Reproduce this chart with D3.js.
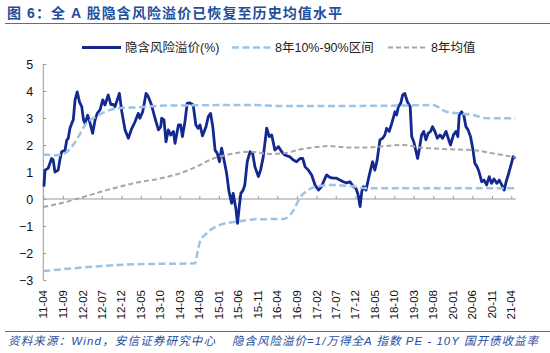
<!DOCTYPE html>
<html>
<head>
<meta charset="utf-8">
<script src="https://cdn.jsdelivr.net/npm/d3@7"></script>
<style>
  body { margin: 0; background: #fff; }
  text { font-family: "Liberation Sans", "Noto Sans CJK SC", sans-serif; }
</style>
</head>
<body>
<svg id="drawing_region"></svg>
<script>
const title = "图 6：全 A 股隐含风险溢价已恢复至历史均值水平";
const seriesNames = ["隐含风险溢价(%)", "8年10%-90%区间", "8年均值"];
const sourceText = "资料来源：Wind，安信证券研究中心";
const noteText = "隐含风险溢价=1/万得全A 指数 PE - 10Y 国开债收益率";

const yTicks = [-3, -2, -1, 0, 1, 2, 3, 4, 5];
const tickLabels = ["11-04", "11-09", "12-02", "12-07", "12-12", "13-05", "13-10", "14-03", "14-08",
    "15-01", "15-06", "15-11", "16-04", "16-09", "17-02", "17-07", "17-12", "18-05", "18-10",
    "19-03", "19-08", "20-01", "20-06", "20-11", "21-04"];

// 隐含风险溢价
const premiumDates = ["2011-04-06", "2011-04-14", "2011-05-09", "2011-06-05", "2011-06-17", "2011-07-01", "2011-07-26", "2011-08-09", "2011-08-22", "2011-09-17",
    "2011-10-01", "2011-10-13", "2011-10-26", "2011-11-09", "2011-11-21", "2011-12-05", "2011-12-22", "2012-01-08", "2012-01-26", "2012-02-09",
    "2012-02-21", "2012-03-12", "2012-03-29", "2012-04-20", "2012-05-09", "2012-05-26", "2012-06-17", "2012-07-08", "2012-07-25", "2012-08-20",
    "2012-09-09", "2012-09-29", "2012-10-12", "2012-10-29", "2012-11-15", "2012-12-04", "2012-12-29", "2013-01-24", "2013-02-20", "2013-03-16",
    "2013-04-11", "2013-04-24", "2013-05-16", "2013-06-11", "2013-06-28", "2013-07-24", "2013-08-20", "2013-09-16", "2013-10-04", "2013-10-11",
    "2013-10-29", "2013-11-14", "2013-12-02", "2013-12-20", "2014-01-11", "2014-01-23", "2014-02-19", "2014-03-08", "2014-03-22", "2014-04-11",
    "2014-04-28", "2014-05-19", "2014-06-14", "2014-07-05", "2014-07-22", "2014-08-06", "2014-08-26", "2014-09-22", "2014-10-10", "2014-10-28",
    "2014-11-14", "2014-12-02", "2014-12-19", "2015-01-05", "2015-01-22", "2015-02-05", "2015-03-02", "2015-03-21", "2015-04-10", "2015-04-22",
    "2015-05-13", "2015-05-26", "2015-06-09", "2015-06-21", "2015-07-09", "2015-07-22", "2015-08-10", "2015-09-01", "2015-09-21", "2015-10-09",
    "2015-11-05", "2015-11-22", "2015-12-13", "2016-01-09", "2016-01-29", "2016-02-17", "2016-03-13", "2016-04-09", "2016-05-05", "2016-05-29",
    "2016-07-09", "2016-08-04", "2016-08-29", "2016-09-25", "2016-10-16", "2016-11-04", "2016-11-29", "2016-12-25", "2017-01-20", "2017-02-16",
    "2017-03-12", "2017-04-02", "2017-04-20", "2017-05-16", "2017-06-11", "2017-07-08", "2017-08-03", "2017-08-28", "2017-09-24", "2017-10-20",
    "2017-11-15", "2017-12-06", "2017-12-23", "2018-01-07", "2018-01-20", "2018-02-02", "2018-02-22", "2018-03-11", "2018-03-23", "2018-04-14",
    "2018-05-02", "2018-05-20", "2018-06-11", "2018-07-02", "2018-07-19", "2018-08-02", "2018-08-22", "2018-09-11", "2018-09-22", "2018-10-06",
    "2018-10-19", "2018-11-02", "2018-11-20", "2018-12-05", "2018-12-22", "2019-01-11", "2019-02-02", "2019-02-14", "2019-03-02", "2019-03-17",
    "2019-04-01", "2019-04-13", "2019-05-02", "2019-05-19", "2019-06-05", "2019-06-22", "2019-07-11", "2019-07-26", "2019-08-14", "2019-09-02",
    "2019-09-22", "2019-10-13", "2019-11-09", "2019-11-26", "2019-12-14", "2020-01-05", "2020-01-25", "2020-02-09", "2020-02-20", "2020-03-09",
    "2020-03-26", "2020-04-12", "2020-04-29", "2020-05-18", "2020-06-04", "2020-06-21", "2020-07-09", "2020-07-24", "2020-08-13", "2020-09-01",
    "2020-09-21", "2020-10-11", "2020-10-29", "2020-11-17", "2020-12-09", "2020-12-28", "2021-01-17", "2021-02-05", "2021-02-20", "2021-03-08",
    "2021-03-26", "2021-04-16", "2021-05-02"];
const premiumValues = [0.46, 1.07, 1.14, 1.5, 1.45, 1.0, 1.07, 1.46, 1.75, 1.8,
    2.18, 2.25, 2.62, 2.8, 2.93, 3.67, 3.97, 3.6, 3.42, 2.93,
    2.8, 3.1, 2.85, 2.43, 2.93, 3.17, 3.3, 3.67, 3.48, 3.85,
    3.5, 3.5, 3.42, 3.67, 3.91, 3.23, 2.56, 2.25, 2.62, 2.85,
    3.17, 2.99, 3.23, 3.91, 3.8, 3.48, 2.99, 2.56, 2.68, 2.99,
    2.93, 2.12, 2.56, 2.37, 2.5, 2.06, 2.74, 2.74, 2.31, 2.87,
    3.54, 3.56, 3.48, 2.74, 2.62, 2.74, 2.34, 2.68, 3.05, 3.17,
    2.68, 1.81, 1.69, 1.38, 1.88, 1.56, 0.95, 0.27, -0.16, 0.21,
    -0.35, -0.9, -0.28, 0.21, 0.33, 0.52, 1.38, 1.75, 1.69, 1.19,
    0.83, 1.07, 1.56, 2.62, 2.31, 2.37, 1.81, 1.94, 1.75, 1.63,
    1.56, 1.44, 1.38, 1.5, 1.5, 1.19, 1.07, 0.89, 0.52, 0.33,
    0.46, 0.7, 0.89, 0.8, 0.77, 0.77, 0.7, 0.64, 0.6, 0.64,
    0.46, 0.4, 0.15, -0.28, 0.27, 0.46, 0.33, 0.7, 0.95, 1.38,
    1.07, 1.44, 2.19, 2.25, 2.37, 2.62, 2.5, 2.8, 2.99, 3.23,
    3.11, 3.42, 3.54, 3.85, 3.91, 3.6, 3.42, 2.31, 2.12, 1.81,
    1.5, 1.81, 2.37, 2.5, 2.19, 2.43, 2.5, 2.68, 2.5, 2.25,
    2.37, 2.25, 2.5, 2.25, 2.0, 2.37, 2.5, 2.31, 3.11, 3.23,
    3.11, 2.68, 2.56, 2.31, 1.88, 1.32, 1.19, 1.0, 0.64, 0.7,
    0.52, 0.83, 0.58, 0.74, 0.58, 0.7, 0.52, 0.33, 0.64, 0.89,
    1.19, 1.57, 1.5];

// 8年90%分位
const upperDates = ["2011-04-01", "2011-07-13", "2011-09-18", "2011-11-10", "2012-01-01", "2012-02-21", "2012-04-24", "2012-07-01",
    "2012-09-04", "2012-11-07", "2013-04-24", "2013-11-07", "2015-09-01", "2016-06-01", "2018-11-16", "2019-07-28",
    "2019-11-13", "2020-02-25", "2020-06-07", "2020-09-22", "2021-05-01"];
const upperValues = [1.65, 1.62, 1.7, 1.94, 2.31, 2.74, 2.99, 3.17,
    3.3, 3.36, 3.4, 3.46, 3.48, 3.44, 3.46, 3.48,
    3.23, 3.17, 3.11, 2.99, 2.99];

// 8年10%分位
const lowerDates = ["2011-04-01", "2013-03-01", "2014-06-28", "2014-07-21", "2014-08-06", "2014-09-27", "2015-01-10", "2015-05-18",
    "2015-10-22", "2016-05-16", "2016-08-01", "2016-09-25", "2016-11-16", "2017-02-04", "2017-06-09", "2017-10-19",
    "2018-02-28", "2021-05-01"];
const lowerValues = [-2.67, -2.42, -2.38, -1.89, -1.58, -1.27, -0.96, -0.84,
    -0.75, -0.74, -0.45, 0.05, 0.3, 0.46, 0.52, 0.48,
    0.4, 0.4];

// 8年均值
const meanDates = ["2011-04-01", "2011-10-01", "2012-01-26", "2012-08-10", "2013-03-04", "2013-11-07", "2014-03-02", "2014-07-10",
    "2014-11-19", "2015-03-01", "2015-09-01", "2016-02-04", "2016-06-01", "2016-09-01", "2017-01-07", "2017-05-16",
    "2017-09-25", "2018-02-28", "2018-12-07", "2019-04-19", "2019-12-10", "2020-06-07", "2020-11-10", "2021-05-01"];
const meanValues = [-0.3, -0.1, 0.06, 0.33, 0.58, 0.8, 0.95, 1.2,
    1.5, 1.63, 1.75, 1.67, 1.7, 1.81, 1.91, 1.96,
    1.91, 1.91, 2.0, 1.91, 1.84, 1.81, 1.69, 1.54];

var width = 550;
var height = 353;
var margin = { top: 64, right: 34, bottom: 73, left: 43.3 };

const parseDate = d3.timeParse("%Y-%m-%d");
const parseTick = d3.timeParse("%y-%m");
const zip = (dates, values) => dates.map((d, i) => ({ date: parseDate(d), value: values[i] }));

var svg = d3.select('#drawing_region')
    .attr('width', width)
    .attr('height', height);

const x = d3.scaleTime()
    .domain([new Date(2011, 3, 1), new Date(2021, 4, 8)])
    .range([margin.left, width - margin.right]);

const y = d3.scaleLinear()
    .domain([-3, 5])
    .range([height - margin.bottom, margin.top]);

const blue = '#1f4e9c';

// 标题
svg.append('text')
    .attr('x', 7)
    .attr('y', 18)
    .attr('textLength', 335)
    .attr('lengthAdjust', 'spacing')
    .style('font-size', '14px')
    .style('font-weight', 'bold')
    .style('fill', blue)
    .text(title);

svg.append('line')
    .attr('x1', 5).attr('x2', 550)
    .attr('y1', 23.5).attr('y2', 23.5)
    .attr('stroke', '#4a6fb5')
    .attr('stroke-width', 1.2);

// 图例
const legendItems = [
    { name: seriesNames[0], x: 82, color: '#13298f', dash: null, w: 2.8 },
    { name: seriesNames[1], x: 232, color: '#9dc3e6', dash: '7,3.5', w: 2.5 },
    { name: seriesNames[2], x: 388, color: '#a6a6a6', dash: '5,3', w: 2 }
];
const legend = svg.selectAll('.legend')
    .data(legendItems)
    .enter()
    .append('g')
    .attr('class', 'legend')
    .attr('transform', d => `translate(${d.x}, 47.5)`);
legend.append('line')
    .attr('x1', 0).attr('x2', 39)
    .attr('stroke', d => d.color)
    .attr('stroke-width', d => d.w)
    .attr('stroke-dasharray', d => d.dash);
legend.append('text')
    .attr('x', 43)
    .attr('y', 4.5)
    .style('font-size', '12.5px')
    .style('fill', '#222')
    .text(d => d.name);

// 坐标轴
const yAxis = d3.axisLeft(y).tickValues(yTicks).tickSize(-3).tickPadding(10);
svg.append('g')
    .attr('transform', `translate(${margin.left}, 0)`)
    .call(yAxis)
    .call(g => g.select('.domain').attr('stroke', '#999').attr('d', `M0,${y(5)}V${y(-3)}`))
    .call(g => g.selectAll('.tick line').attr('stroke', '#999'))
    .call(g => g.selectAll('.tick text').style('font-size', '12.5px').style('fill', '#111')
        .style('font-family', '"Liberation Sans", sans-serif'));

const tickDates = tickLabels.map(parseTick);
const xAxis = d3.axisBottom(x).tickValues(tickDates).tickSize(-3).tickFormat('');
svg.append('g')
    .attr('transform', `translate(0, ${y(0)})`)
    .call(xAxis)
    .call(g => g.select('.domain').attr('stroke', '#999').attr('d', `M${x.range()[0]},0H${x.range()[1]}`))
    .call(g => g.selectAll('.tick line').attr('stroke', '#999'));

svg.append('g')
    .selectAll('text')
    .data(tickLabels)
    .enter()
    .append('text')
    .attr('transform', d => `translate(${x(parseTick(d))}, 290) rotate(-90)`)
    .attr('text-anchor', 'end')
    .attr('dy', '0.35em')
    .style('font-size', '11.5px')
    .style('fill', '#111')
    .text(d => d);

// 曲线
const line = d3.line()
    .x(d => x(d.date))
    .y(d => y(d.value));
const smooth = d3.line()
    .x(d => x(d.date))
    .y(d => y(d.value))
    .curve(d3.curveMonotoneX);

svg.append('path')
    .datum(zip(premiumDates, premiumValues))
    .attr('fill', 'none')
    .attr('stroke', '#13298f')
    .attr('stroke-width', 2.8)
    .attr('stroke-linejoin', 'round')
    .attr('d', line);

[zip(upperDates, upperValues), zip(lowerDates, lowerValues)].forEach(data => {
    svg.append('path')
        .datum(data)
        .attr('fill', 'none')
        .attr('stroke', '#9dc3e6')
        .attr('stroke-width', 2.5)
        .attr('stroke-dasharray', '7,3.5')
        .attr('d', smooth);
});

svg.append('path')
    .datum(zip(meanDates, meanValues))
    .attr('fill', 'none')
    .attr('stroke', '#a6a6a6')
    .attr('stroke-width', 2)
    .attr('stroke-dasharray', '5,3')
    .attr('d', smooth);

// 资料来源
svg.append('line')
    .attr('x1', 5).attr('x2', 550)
    .attr('y1', 331.5).attr('y2', 331.5)
    .attr('stroke', '#4a6fb5')
    .attr('stroke-width', 1.2);

svg.append('text')
    .attr('x', 8)
    .attr('y', 345)
    .attr('textLength', 207)
    .attr('lengthAdjust', 'spacing')
    .style('font-size', '11.5px')
    .style('font-style', 'italic')
    .style('fill', blue)
    .text(sourceText);

svg.append('text')
    .attr('x', 232)
    .attr('y', 345)
    .attr('textLength', 306)
    .attr('lengthAdjust', 'spacing')
    .style('font-size', '11.5px')
    .style('font-style', 'italic')
    .style('fill', blue)
    .text(noteText);
</script>
</body>
</html>
